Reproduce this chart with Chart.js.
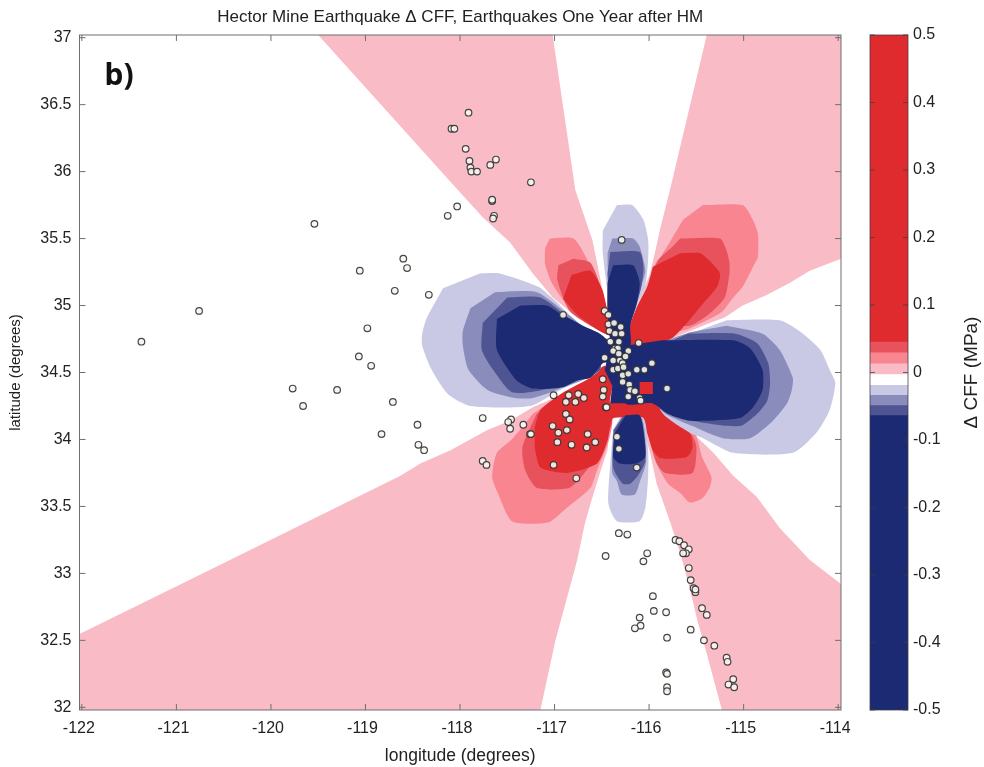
<!DOCTYPE html>
<html>
<head>
<meta charset="utf-8">
<script src="https://cdn.jsdelivr.net/npm/chart.js@4/dist/chart.umd.min.js"></script>
<style>
html,body{margin:0;padding:0;background:#fff}
#wrap{position:relative;width:984px;height:767px;overflow:hidden}
canvas{position:absolute;top:0;filter:blur(0.5px)}
</style>
</head>
<body>
<div id="wrap"><canvas id="map" width="860" height="767" style="left:0"></canvas><canvas id="bar" width="124" height="767" style="left:860px"></canvas></div>
<script>
const chartTitle = 'Hector Mine Earthquake \u0394 CFF, Earthquakes One Year after HM';
const xTitle = 'longitude (degrees)';
const yTitle = 'latitude (degrees)';
const barTitle = '\u0394 CFF (MPa)';
const panelLabel = 'b)';
const panelLabelAt = [-121.76, 36.65];
const xTicks = [-122,-121,-120,-119,-118,-117,-116,-115,-114];
const yTicks = [32,32.5,33,33.5,34,34.5,35,35.5,36,36.5,37];
const barTicks = [-0.5,-0.4,-0.3,-0.2,-0.1,0,0.1,0.2,0.3,0.4,0.5];

const levelColors = {a:'#f9bbc6',b:'#f8858f',c:'#e8525c',d:'#df2a2e',e:'#c9c9e5',f:'#8a8cbb',g:'#4f5592',h:'#1b2a72',w:'#ffffff'};
const barBands = [[-0.5,-0.064,'h'],[-0.064,-0.049,'g'],[-0.049,-0.034,'f'],[-0.034,-0.019,'e'],[-0.019,-0.003,'w'],[-0.003,0.013,'a'],[0.013,0.029,'b'],[0.029,0.045,'c'],[0.045,0.5,'d']];

const pinkNW = [[-119.5,37.02],[-117.02,37.02],[-116.92,36.535],[-116.78,35.86],[-116.6,35.49],[-116.49,35.11],[-116.39,34.78],[-116.76,34.91],[-117.02,35.06],[-117.23,35.24],[-117.47,35.47],[-117.76,35.66],[-118.02,35.86]];
const pinkNE = [[-115.39,37.02],[-113.97,37.02],[-113.97,35.35],[-114.3,35.26],[-114.51,35.17],[-114.75,35.08],[-115.01,35.0],[-115.2,34.91],[-115.36,34.87],[-115.67,34.78],[-115.99,34.7],[-116.25,34.78],[-116.1,35.04],[-115.99,35.24],[-115.94,35.39],[-115.88,35.58],[-115.78,35.86]];
const pinkSE = [[-115.88,34.22],[-115.48,34.01],[-115.32,33.9],[-115.11,33.73],[-114.86,33.57],[-114.62,33.34],[-114.3,33.1],[-113.97,32.92],[-113.97,31.98],[-115.23,31.98],[-115.39,32.4],[-115.49,32.65],[-115.57,32.89],[-115.67,33.15],[-115.78,33.39],[-115.92,33.67],[-115.99,33.9],[-116.1,34.18]];
const pinkSW = [[-122.02,32.55],[-120.75,32.99],[-118.63,33.73],[-118.42,33.82],[-118.1,33.92],[-117.71,34.07],[-117.47,34.14],[-117.23,34.24],[-116.94,34.33],[-116.52,34.4],[-116.25,34.29],[-116.41,34.12],[-116.44,33.92],[-116.52,33.75],[-116.62,33.52],[-116.68,33.37],[-116.76,33.1],[-116.99,32.5],[-117.15,31.98],[-122.02,31.98]];

const neB = [[-115.43,35.75],[-115.01,35.75],[-114.91,35.65],[-114.85,35.54],[-114.85,35.36],[-114.9,35.29],[-115.01,35.14],[-115.11,35.06],[-115.22,34.96],[-115.36,34.9],[-115.67,34.81],[-115.99,34.89],[-115.94,35.3],[-115.88,35.36],[-115.75,35.51],[-115.64,35.64]];
const neC = [[-115.67,35.5],[-115.25,35.5],[-115.18,35.41],[-115.15,35.32],[-115.15,35.24],[-115.2,35.06],[-115.36,34.94],[-115.57,34.85],[-115.99,34.89],[-115.92,35.32],[-115.75,35.44]];
const neD = [[-115.67,35.39],[-115.46,35.39],[-115.34,35.32],[-115.25,35.24],[-115.28,35.14],[-115.46,34.99],[-115.6,34.87],[-115.75,34.76],[-115.94,34.7],[-116.29,34.7],[-116.25,34.81],[-116.13,34.99],[-116.02,35.14],[-115.96,35.29]];
const nwB = [[-117.05,35.5],[-116.8,35.5],[-116.66,35.35],[-116.52,35.11],[-116.39,34.78],[-116.52,34.81],[-116.84,34.98],[-117.03,35.17],[-117.1,35.31],[-117.1,35.43]];
const nwC = [[-116.8,35.35],[-116.62,35.32],[-116.5,35.11],[-116.39,34.78],[-116.52,34.81],[-116.84,34.96],[-116.97,35.19],[-116.96,35.3]];
const nwD = [[-116.82,35.23],[-116.62,35.26],[-116.49,35.11],[-116.41,34.78],[-116.52,34.81],[-116.76,34.93],[-116.91,35.05]];
const swB = [[-117.23,34.19],[-117.44,34.01],[-117.61,33.9],[-117.66,33.72],[-117.6,33.6],[-117.45,33.39],[-117.07,33.38],[-116.87,33.49],[-116.62,33.64],[-116.55,33.77],[-116.44,33.96],[-116.39,34.14],[-116.52,34.37],[-116.94,34.33]];
const swC = [[-117.19,34.19],[-117.34,33.94],[-117.31,33.77],[-117.19,33.64],[-116.84,33.64],[-116.66,33.77],[-116.52,33.92],[-116.39,34.14],[-116.52,34.37],[-116.94,34.33]];
const swD = [[-117.21,34.09],[-117.15,34.22],[-116.91,34.35],[-116.62,34.46],[-116.47,34.55],[-116.39,34.4],[-116.41,34.27],[-116.1,34.27],[-116.1,34.16],[-116.38,34.16],[-116.44,33.99],[-116.55,33.82],[-116.87,33.75],[-117.15,33.79],[-117.21,33.94]];
const seB = [[-115.99,34.14],[-115.52,34.05],[-115.48,33.98],[-115.44,33.87],[-115.34,33.72],[-115.36,33.64],[-115.44,33.56],[-115.57,33.53],[-115.67,33.6],[-115.8,33.67],[-115.9,33.79],[-115.99,33.99]];
const seC = [[-116.1,34.18],[-115.57,34.05],[-115.5,33.95],[-115.54,33.75],[-115.83,33.75],[-115.92,33.82],[-116.02,34.05]];
const seD = [[-116.47,34.27],[-115.96,34.27],[-115.78,34.16],[-115.57,34.05],[-115.54,33.94],[-115.6,33.87],[-115.88,33.86],[-115.96,33.92],[-116.02,34.05],[-116.1,34.16],[-116.47,34.16]];

const westE = [[-117.79,35.24],[-117.58,35.24],[-117.17,35.14],[-117.03,35.06],[-116.84,34.93],[-116.62,34.78],[-116.52,34.52],[-116.94,34.37],[-117.26,34.25],[-117.89,34.25],[-118.13,34.34],[-118.3,34.52],[-118.4,34.7],[-118.4,34.79],[-118.35,34.91],[-118.18,35.13]];
const westF = [[-117.63,35.1],[-117.19,35.1],[-116.87,34.94],[-116.62,34.78],[-116.52,34.52],[-116.94,34.38],[-117.23,34.31],[-117.42,34.31],[-117.71,34.37],[-117.91,34.52],[-117.97,34.7],[-117.97,34.81],[-117.89,34.98]];
const westG = [[-117.5,35.06],[-117.15,35.06],[-116.84,34.9],[-116.57,34.76],[-116.52,34.52],[-116.94,34.4],[-117.44,34.35],[-117.65,34.52],[-117.77,34.67],[-117.76,34.87]];
const westH = [[-117.36,35.0],[-117.08,35.0],[-116.94,34.94],[-116.7,34.85],[-116.52,34.79],[-116.39,34.7],[-116.41,34.58],[-116.49,34.57],[-116.62,34.46],[-116.76,34.44],[-116.91,34.39],[-117.23,34.38],[-117.4,34.44],[-117.61,34.67],[-117.61,34.9]];
const eastE = [[-115.18,34.89],[-114.62,34.89],[-114.41,34.81],[-114.19,34.67],[-114.09,34.52],[-114.03,34.42],[-114.09,34.22],[-114.23,34.05],[-114.48,33.9],[-115.11,33.9],[-115.43,34.01],[-115.57,34.05],[-115.88,34.22],[-115.88,34.7],[-115.57,34.79]];
const eastF = [[-115.18,34.85],[-114.8,34.79],[-114.62,34.67],[-114.48,34.46],[-114.49,34.37],[-114.54,34.27],[-114.69,34.14],[-114.93,34.01],[-115.22,34.01],[-115.54,34.1],[-115.88,34.23],[-115.88,34.7],[-115.57,34.8]];
const eastG = [[-115.59,34.79],[-115.09,34.79],[-114.86,34.72],[-114.74,34.57],[-114.72,34.42],[-114.75,34.29],[-114.86,34.19],[-115.04,34.1],[-115.54,34.14],[-115.83,34.22],[-115.88,34.7]];
const eastH = [[-115.86,34.74],[-115.11,34.74],[-114.93,34.68],[-114.8,34.52],[-114.8,34.37],[-114.9,34.24],[-115.04,34.16],[-115.57,34.14],[-115.8,34.19],[-115.97,34.27],[-116.25,34.27],[-116.25,34.7]];
const northE = [[-116.34,35.75],[-116.18,35.75],[-116.06,35.64],[-116.01,35.49],[-116.01,35.34],[-116.04,35.15],[-116.13,34.99],[-116.22,34.82],[-116.25,34.7],[-116.39,34.74],[-116.43,35.04],[-116.49,35.39],[-116.49,35.56]];
const northF = [[-116.39,35.5],[-116.17,35.5],[-116.1,35.44],[-116.04,35.26],[-116.08,35.15],[-116.14,34.99],[-116.22,34.82],[-116.25,34.7],[-116.39,34.74],[-116.43,35.04],[-116.44,35.39]];
const northG = [[-116.41,35.4],[-116.1,35.4],[-116.06,35.29],[-116.08,35.15],[-116.14,34.99],[-116.22,34.82],[-116.25,34.7],[-116.39,34.74],[-116.44,35.24]];
const northH = [[-116.38,35.3],[-116.17,35.3],[-116.1,35.17],[-116.13,35.02],[-116.2,34.85],[-116.2,34.7],[-116.39,34.7],[-116.44,34.96],[-116.44,35.17]];
const southE = [[-116.31,34.16],[-116.06,34.16],[-116.01,33.92],[-116.01,33.72],[-116.04,33.49],[-116.1,33.39],[-116.34,33.39],[-116.43,33.52],[-116.41,33.82],[-116.38,34.07]];
const southF = [[-116.29,34.16],[-116.08,34.16],[-116.03,33.84],[-116.1,33.68],[-116.15,33.59],[-116.29,33.59],[-116.34,33.69],[-116.39,33.75],[-116.38,34.07]];
const southG = [[-116.28,34.17],[-116.09,34.17],[-116.04,33.84],[-116.12,33.73],[-116.2,33.67],[-116.28,33.67],[-116.38,33.79],[-116.37,34.07]];
const southH = [[-116.25,34.18],[-116.1,34.18],[-116.05,34.01],[-116.04,33.87],[-116.14,33.82],[-116.31,33.82],[-116.38,33.87],[-116.36,34.05]];
const centerH = [[-116.41,34.7],[-116.2,34.7],[-116.2,34.27],[-116.41,34.27],[-116.39,34.4],[-116.47,34.52]];
const centerD = [[-116.1,34.43],[-115.96,34.43],[-115.96,34.34],[-116.1,34.34]];

const wedgeLayers = [[pinkNW,'a'],[pinkNE,'a'],[pinkSE,'a'],[pinkSW,'a']];
const lobeLayers = [[neB,'b'],[neC,'c'],[neD,'d'],[nwB,'b'],[nwC,'c'],[nwD,'d'],[swB,'b'],[swC,'c'],[swD,'d'],[seB,'b'],[seC,'c'],[seD,'d'],[westE,'e'],[westF,'f'],[westG,'g'],[westH,'h'],[eastE,'e'],[eastF,'f'],[eastG,'g'],[eastH,'h'],[northE,'e'],[northF,'f'],[northG,'g'],[northH,'h'],[southE,'e'],[southF,'f'],[southG,'g'],[southH,'h']];
const coreLayers = [[centerH,'h'],[centerD,'d']];

const quakeLon = [-121.37,-120.76,-119.54,-119.06,-118.60,-118.56,-118.69,-118.33,-118.98,-119.07,-118.94,-119.77,-119.66,-119.30,-118.71,-118.45,-118.83,-118.44,-118.38,-117.76,-117.46,-117.49,-117.47,-117.33,-117.26,-117.25,-117.76,-117.72,-117.01,-116.88,-116.85,-116.78,-116.75,-116.69,-116.49,-116.48,-116.49,-116.46,-116.45,-116.88,-116.84,-117.02,-116.96,-116.87,-116.97,-116.82,-116.65,-116.57,-116.66,-117.01,-116.77,-116.34,-116.32,-116.13,-116.32,-116.23,-116.46,-116.02,-116.06,-115.96,-115.95,-115.82,-116.10,-116.09,-116.15,-115.56,-115.81,-115.42,-115.31,-115.18,-115.17,-115.82,-115.81,-115.81,-115.81,-115.11,-115.16,-115.10,-115.72,-115.68,-115.63,-115.58,-115.61,-115.64,-115.58,-115.56,-115.53,-115.51,-115.51,-115.44,-115.39,-117.91,-118.09,-118.06,-117.94,-117.90,-117.89,-117.88,-117.82,-117.62,-117.68,-117.25,-117.66,-117.66,-118.03,-118.13,-117.64,-117.65,-116.29,-116.91,-116.47,-116.43,-116.43,-116.37,-116.30,-116.42,-116.36,-116.29,-116.11,-116.41,-116.32,-116.36,-116.33,-116.22,-116.38,-116.32,-116.25,-116.47,-116.38,-116.31,-116.28,-115.97,-116.38,-116.33,-116.27,-116.13,-116.05,-116.28,-116.22,-116.28,-116.21,-116.20,-116.22,-116.15,-116.10,-116.09,-115.81];
const quakeLat = [34.73,34.96,35.61,35.26,35.35,35.28,35.11,35.08,34.83,34.62,34.55,34.38,34.25,34.37,34.28,34.11,34.04,33.96,33.92,34.16,34.15,34.13,34.08,34.11,34.04,34.04,33.84,33.81,34.33,34.28,34.33,34.28,34.34,34.31,34.45,34.37,34.32,34.24,34.24,34.19,34.15,34.10,34.05,34.07,33.98,33.96,34.04,33.98,33.94,33.81,33.71,34.02,33.93,33.79,33.30,33.29,33.13,33.15,33.09,32.83,32.72,32.71,32.67,32.61,32.59,32.58,32.52,32.50,32.46,32.37,32.34,32.26,32.25,32.15,32.12,32.21,32.17,32.15,33.25,33.24,33.21,33.18,33.15,33.15,33.04,32.95,32.89,32.86,32.88,32.74,32.69,36.44,36.32,36.32,36.17,36.08,36.03,36.00,36.00,36.09,36.05,35.92,35.78,35.79,35.74,35.67,35.67,35.65,35.49,34.93,34.96,34.93,34.86,34.87,34.84,34.81,34.79,34.79,34.72,34.73,34.73,34.68,34.68,34.66,34.66,34.64,34.62,34.61,34.59,34.59,34.57,34.57,34.52,34.53,34.54,34.52,34.52,34.48,34.49,34.43,34.41,34.37,34.32,34.36,34.31,34.29,34.38];

const font = 'Liberation Sans, Arial, sans-serif';
const ink = '#222222';
const frame = '#6f6f6f';

function pinTicks(values){ return s => { s.ticks = values.map(v => ({value:v})); }; }

const frameTicks = {
  id:'frameTicks',
  afterDatasetsDraw(c){
    const {ctx,chartArea:a,scales} = c, L = 6;
    ctx.save();
    ctx.strokeStyle = frame; ctx.lineWidth = 1;
    if (c.canvas.id === 'map') {
      ctx.strokeRect(a.left,a.top,a.right-a.left,a.bottom-a.top);
      ctx.beginPath();
      xTicks.forEach(v => { const x = scales.x.getPixelForValue(v);
        ctx.moveTo(x,a.bottom); ctx.lineTo(x,a.bottom-L); ctx.moveTo(x,a.top); ctx.lineTo(x,a.top+L); });
      yTicks.forEach(v => { const y = scales.y.getPixelForValue(v);
        ctx.moveTo(a.left,y); ctx.lineTo(a.left+L,y); ctx.moveTo(a.right,y); ctx.lineTo(a.right-L,y); });
      ctx.stroke();
      ctx.fillStyle = '#111111';
      ctx.font = 'bold 30px "Noto Sans", sans-serif';
      ctx.textAlign = 'left'; ctx.textBaseline = 'alphabetic';
      ctx.fillText(panelLabel, scales.x.getPixelForValue(panelLabelAt[0]), scales.y.getPixelForValue(panelLabelAt[1]));
    } else {
      ctx.strokeStyle = 'rgba(60,60,70,.75)';
      ctx.strokeRect(a.left,a.top,a.right-a.left,a.bottom-a.top);
      ctx.beginPath();
      barTicks.forEach(v => { const y = scales.y.getPixelForValue(v);
        ctx.moveTo(a.left,y); ctx.lineTo(a.left+5,y); ctx.moveTo(a.right,y); ctx.lineTo(a.right-5,y); });
      ctx.stroke();
      ctx.translate(112, (a.top+a.bottom)/2);
      ctx.rotate(-Math.PI/2);
      ctx.fillStyle = ink;
      ctx.font = '19px '+font;
      ctx.textAlign = 'center'; ctx.textBaseline = 'middle';
      ctx.fillText(barTitle, 0, 0);
    }
    ctx.restore();
  }
};

const contourLayers = [...wedgeLayers, ...lobeLayers, ...coreLayers];
const N = contourLayers.length;
const mapSets = contourLayers.map(([pts,lvl],i) => ({
  type:'scatter', showLine:true, fill:'shape', borderWidth:0, pointRadius:0, pointHitRadius:0,
  tension: lobeLayers.some(l => l[0] === pts) ? 0.22 : 0,
  backgroundColor: levelColors[lvl], borderColor:'transparent', order:N-i+1,
  data: pts.map(p => ({x:p[0],y:p[1]}))
}));
mapSets.push({
  type:'scatter', order:0, showLine:false, pointRadius:3.3, borderWidth:1.2,
  pointBackgroundColor:'rgba(246,246,240,.9)', pointBorderColor:'rgba(50,50,50,.9)',
  data: quakeLon.map((x,i) => ({x,y:quakeLat[i]}))
});

new Chart(document.getElementById('map'), {
  type:'scatter',
  data:{datasets:mapSets},
  plugins:[frameTicks],
  options:{
    responsive:false, animation:false,
    events:[],
    layout:{padding:{left:0,right:19,top:0,bottom:0}},
    plugins:{
      legend:{display:false}, tooltip:{enabled:false},
      title:{display:true, text:chartTitle, fullSize:false, color:ink, font:{family:font,size:17,weight:'normal'}, padding:{top:7,bottom:7.6}}
    },
    scales:{
      x:{type:'linear',min:-122.025,max:-113.97,grid:{display:false},border:{display:false},
        afterBuildTicks:pinTicks(xTicks),
        afterFit(s){ s.height = 57; },
        ticks:{autoSkip:false,maxRotation:0,color:ink,padding:1,labelOffset:-3,font:{family:font,size:16},callback:v=>String(v)},
        title:{display:true,text:xTitle,color:ink,font:{family:font,size:17.5},padding:{top:0,bottom:0}}},
      y:{type:'linear',min:31.98,max:37.02,grid:{display:false},border:{display:false},
        afterBuildTicks:pinTicks(yTicks),
        afterFit(s){ s.width = 79.5; },
        ticks:{autoSkip:false,color:ink,padding:0,font:{family:font,size:16},callback:v=>String(v)},
        title:{display:true,text:yTitle,color:ink,font:{family:font,size:15},padding:{top:7,bottom:0}}}
    }
  }
});

new Chart(document.getElementById('bar'), {
  type:'bar',
  data:{labels:['CFF'],datasets:barBands.map(b => ({data:[[b[0],b[1]]],backgroundColor:levelColors[b[2]],borderWidth:0,barPercentage:1,categoryPercentage:1}))},
  plugins:[frameTicks],
  options:{
    responsive:false, animation:false, events:[],
    layout:{padding:{left:10,right:0,top:35,bottom:57}},
    plugins:{legend:{display:false},tooltip:{enabled:false},title:{display:false}},
    scales:{
      x:{stacked:true,display:false,grid:{display:false}},
      y:{type:'linear',position:'right',min:-0.5,max:0.5,grid:{display:false},border:{display:false},
        afterBuildTicks:pinTicks(barTicks),
        afterFit(s){ s.width = 76; },
        ticks:{autoSkip:false,color:ink,padding:-3,font:{family:font,size:16},callback:v=>String(v)}}
    }
  }
});
</script>
</body>
</html>
